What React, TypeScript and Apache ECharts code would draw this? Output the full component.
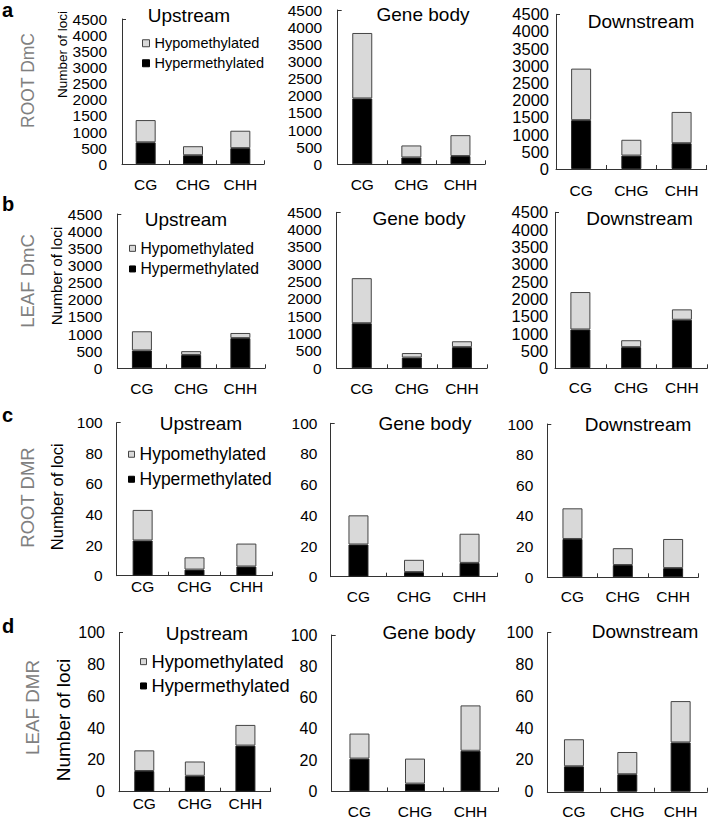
import React, { useEffect, useRef } from 'react';
import * as echarts from 'echarts';

// ---------- data ----------
const categories = ['CG', 'CHG', 'CHH'];
const regions = ['Upstream', 'Gene body', 'Downstream'];
const rowLabels = ['ROOT DmC', 'LEAF DmC', 'ROOT DMR', 'LEAF DMR'];
const panelLetters = ['a', 'b', 'c', 'd'];
const yMax = [4500, 4500, 100, 100];
const yStep = [500, 500, 20, 20];

// per region: [CG, CHG, CHH]
const rootDmcHyper = [[680, 280, 500], [1920, 200, 240], [1420, 390, 750]];
const rootDmcHypo = [[690, 280, 540], [1910, 350, 610], [1500, 460, 910]];
const leafDmcHyper = [[520, 390, 880], [1300, 310, 610], [1120, 610, 1400]];
const leafDmcHypo = [[560, 110, 150], [1300, 130, 170], [1080, 200, 300]];
const rootDmrHyper = [[23, 4, 6], [21, 3, 9], [25, 8, 6]];
const rootDmrHypo = [[20, 8, 15], [19, 8, 19], [20, 11, 19]];
const leafDmrHyper = [[13, 10, 29], [21, 5, 26], [16, 11, 31]];
const leafDmrHypo = [[13, 9, 13], [16, 16, 29], [17, 14, 26]];

const hyperRows = [rootDmcHyper, leafDmcHyper, rootDmrHyper, leafDmrHyper];
const hypoRows = [rootDmcHypo, leafDmcHypo, rootDmrHypo, leafDmrHypo];

// ---------- layout ----------
const gridBoxes = [
  [[122, 19, 142, 145.3], [337.7, 10, 147.3, 154.3], [556, 14.3, 150.7, 154.7]],
  [[117.3, 214, 147.7, 154.3], [336.7, 212.3, 150.3, 156], [555, 212.3, 152.3, 156]],
  [[116.7, 422.7, 155.6, 153], [330.7, 423.3, 166.6, 153.4], [547.3, 424, 151, 153.3]],
  [[119, 632.7, 151.7, 159], [331.7, 635, 166.6, 157.3], [547.3, 632.7, 160, 160]],
];
const yLabelMargin = [[15, 15.5, 7], [15, 15, 6.7], [14, 13.3, 14], [14, 14.3, 14]];
const xLabelOffset = [[20, 20, 21], [20, 20, 19.3], [11, 20, 19.3], [11.7, 19.3, 19]];
const yLabelSize = [[15.5, 15.5, 16.5], [15.5, 15.5, 16.5], [15.5, 15.5, 15.5], [16, 16, 16]];
const titlePos = [
  [[189, 15], [423, 14], [641, 21]],
  [[186, 219], [419, 218], [639.5, 218]],
  [[201, 423], [425, 423], [638, 424]],
  [[207, 633], [429, 632], [645, 631]],
];
const letterPos = [[2, 10], [2, 204], [2, 415], [2, 626]];
const rowLabelPos = [[28, 80.5, 17.5], [27, 281, 18.5], [27, 497.5, 18.5], [32, 707.5, 18.8]];
const lociPos = [[62, 54.5, 13.5], [56, 276, 15.3], [57, 496.7, 16.6], [63.7, 720, 19]];
// legend: left, top, icon size, fontSize, row spacing
const legendCfg = [
  [142, 35, 7, 14.5, 20],
  [129, 239.5, 6, 15.7, 20.6],
  [128, 444.5, 6, 17.5, 25],
  [140, 651.5, 6, 18.3, 24.3],
];

const FONT = 'Liberation Sans, Arial, Helvetica, sans-serif';
const AXIS_COLOR = '#333333';
const HYPO_COLOR = '#d9d9d9';

export default function App() {
  const ref = useRef<HTMLDivElement>(null);

  useEffect(() => {
    if (!ref.current) return;
    const chart = echarts.init(ref.current, undefined, { renderer: 'svg' });

    const grid: any[] = [];
    const xAxis: any[] = [];
    const yAxis: any[] = [];
    const series: any[] = [];
    const graphic: any[] = [];
    const legend: any[] = [];

    for (let r = 0; r < 4; r++) {
      for (let c = 0; c < 3; c++) {
        const idx = r * 3 + c;
        const [left, top, width, height] = gridBoxes[r][c];
        grid.push({ left, top, width, height, containLabel: false });
        const lblSize = 15.5;
        xAxis.push({
          gridIndex: idx,
          type: 'category',
          data: categories,
          axisLine: { show: true, lineStyle: { color: AXIS_COLOR, width: 1 } },
          axisTick: { show: true, inside: true, length: 4, lineStyle: { color: AXIS_COLOR } },
          axisLabel: {
            margin: xLabelOffset[r][c] - lblSize / 2,
            fontSize: lblSize,
            color: '#000',
            fontFamily: FONT,
          },
        });
        yAxis.push({
          gridIndex: idx,
          type: 'value',
          min: 0,
          max: yMax[r],
          interval: yStep[r],
          axisLine: { show: true, lineStyle: { color: AXIS_COLOR, width: 1 } },
          axisTick: {
            show: true,
            inside: true,
            length: 4,
            customValues: [yMax[r]],
            lineStyle: { color: AXIS_COLOR },
          },
          splitLine: { show: false },
          axisLabel: {
            margin: yLabelMargin[r][c],
            fontSize: yLabelSize[r][c],
            color: '#000',
            fontFamily: FONT,
            formatter: (v: number) => String(v),
          },
        });
        series.push({
          name: 'Hypermethylated',
          type: 'bar',
          xAxisIndex: idx,
          yAxisIndex: idx,
          stack: 'p' + idx,
          barWidth: 20,
          data: hyperRows[r][c],
          itemStyle: { color: '#000000', borderColor: '#222222', borderWidth: 1 },
        });
        series.push({
          name: 'Hypomethylated',
          type: 'bar',
          xAxisIndex: idx,
          yAxisIndex: idx,
          stack: 'p' + idx,
          barWidth: 20,
          data: hypoRows[r][c],
          itemStyle: { color: HYPO_COLOR, borderColor: '#444444', borderWidth: 1 },
        });
        graphic.push({
          type: 'text',
          x: titlePos[r][c][0],
          y: titlePos[r][c][1],
          style: {
            text: regions[c],
            fontSize: 19,
            fontFamily: FONT,
            fill: '#000',
            align: 'center',
            verticalAlign: 'middle',
          },
        });
      }

      const [lLeft, lTop, icon, fs, spacing] = legendCfg[r];
      const lh = fs + 2;
      legend.push({
        left: lLeft,
        top: lTop,
        orient: 'vertical',
        itemWidth: icon,
        itemHeight: icon,
        itemGap: spacing - lh,
        padding: 0,
        selectedMode: false,
        textStyle: { fontSize: fs, fontFamily: FONT, color: '#000', lineHeight: lh },
        data: [
          { name: 'Hypomethylated', icon: 'rect', itemStyle: { color: HYPO_COLOR, borderColor: '#444', borderWidth: 1 } },
          { name: 'Hypermethylated', icon: 'rect', itemStyle: { color: '#000', borderColor: '#000', borderWidth: 1 } },
        ],
      });

      graphic.push({
        type: 'text',
        x: letterPos[r][0],
        y: letterPos[r][1],
        style: {
          text: panelLetters[r],
          fontSize: 20,
          fontWeight: 'bold',
          fontFamily: FONT,
          fill: '#000',
          align: 'left',
          verticalAlign: 'middle',
        },
      });
      graphic.push({
        type: 'text',
        x: rowLabelPos[r][0],
        y: rowLabelPos[r][1],
        rotation: Math.PI / 2,
        style: {
          text: rowLabels[r],
          fontSize: rowLabelPos[r][2],
          fontFamily: FONT,
          fill: '#808080',
          align: 'center',
          verticalAlign: 'middle',
        },
      });
      graphic.push({
        type: 'text',
        x: lociPos[r][0],
        y: lociPos[r][1],
        rotation: Math.PI / 2,
        style: {
          text: 'Number of loci',
          fontSize: lociPos[r][2],
          fontFamily: FONT,
          fill: '#000',
          align: 'center',
          verticalAlign: 'middle',
        },
      });
    }

    chart.setOption({
      animation: false,
      backgroundColor: '#ffffff',
      textStyle: { fontFamily: FONT },
      grid,
      xAxis,
      yAxis,
      series,
      legend,
      graphic,
    });

    return () => chart.dispose();
  }, []);

  return (
    <div
      ref={ref}
      style={{ position: 'absolute', left: 0, top: 0, width: 709, height: 819 }}
    />
  );
}
